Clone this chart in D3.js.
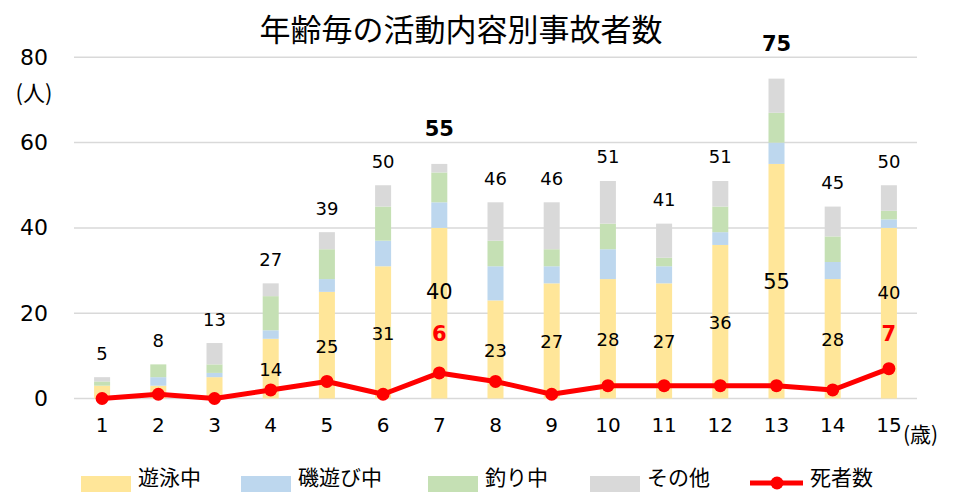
<!DOCTYPE html>
<html>
<head>
<meta charset="utf-8">
<script src="https://cdn.jsdelivr.net/npm/d3@7"></script>
<style>
  body { margin: 0; background: #fff; }
  svg { font-family: "DejaVu Sans", "Noto Sans CJK JP", sans-serif; }
  .jp { font-family: "Noto Sans CJK JP", sans-serif; }
</style>
</head>
<body>
<svg width="953" height="492"></svg>
<script>
// data
var ages = [1, 2, 3, 4, 5, 6, 7, 8, 9, 10, 11, 12, 13, 14, 15];
var swimming = [3, 3, 5, 14, 25, 31, 40, 23, 27, 28, 27, 36, 55, 28, 40];
var rockPlay = [0, 2, 1, 2, 3, 6, 6, 8, 4, 7, 4, 3, 5, 4, 2];
var fishing = [1, 3, 2, 8, 7, 8, 7, 6, 4, 6, 2, 6, 7, 6, 2];
var others = [1, 0, 5, 3, 4, 5, 2, 9, 11, 10, 8, 6, 8, 7, 6];
var deaths = [0, 1, 0, 2, 4, 1, 6, 4, 1, 3, 3, 3, 3, 2, 7];
var yTicks = [0, 20, 40, 60, 80];
var seriesNames = ["遊泳中", "磯遊び中", "釣り中", "その他"];
var boldAges = [7, 13];        // totals in bold
var deathLabelAges = [7, 15];  // death counts written in red
var noSwimLabel = [1, 2, 3];

var colors = ["#ffe699", "#bdd7ee", "#c5e0b4", "#d9d9d9"];

var svg = d3.select("svg");

var rows = ages.map(function(a, i) {
  return { age: a, s0: swimming[i], s1: rockPlay[i], s2: fishing[i], s3: others[i], deaths: deaths[i] };
});
var keys = ["s0", "s1", "s2", "s3"];
var stacked = d3.stack().keys(keys)(rows);

var x = d3.scaleBand().domain(ages).range([74, 917]).paddingInner(0.715).paddingOuter(0.3575);
var y = d3.scaleLinear().domain([0, 80]).range([398.5, 57.3]);

// title
svg.append("text").attr("class", "jp")
  .attr("x", 461).attr("y", 27)
  .attr("text-anchor", "middle").attr("dominant-baseline", "central")
  .attr("font-size", 31).attr("fill", "#000")
  .text("年齢毎の活動内容別事故者数");

// gridlines
svg.append("g").selectAll("line").data(yTicks).enter().append("line")
  .attr("x1", 74).attr("x2", 917)
  .attr("y1", function(d) { return y(d); })
  .attr("y2", function(d) { return y(d); })
  .attr("stroke", "#d9d9d9").attr("stroke-width", 1.5);

// y axis labels
var yAxis = svg.append("g").attr("transform", "translate(58,0)")
  .call(d3.axisLeft(y).tickValues(yTicks).tickSize(0).tickPadding(10));
yAxis.select(".domain").remove();
yAxis.selectAll("text").attr("font-size", 22).attr("fill", "#000")
  .attr("font-family", "DejaVu Sans");

svg.append("text").attr("class", "jp")
  .attr("x", 34).attr("y", 91)
  .attr("text-anchor", "middle").attr("dominant-baseline", "central")
  .attr("font-size", 22).text("(人)");

// x axis labels
var xAxis = svg.append("g").attr("transform", "translate(0,420)")
  .call(d3.axisBottom(x).tickSize(0).tickPadding(0));
xAxis.select(".domain").remove();
xAxis.selectAll("text").attr("font-size", 20).attr("fill", "#000")
  .attr("font-family", "DejaVu Sans").attr("dy", "0.6em");

svg.append("text").attr("class", "jp")
  .attr("x", 903).attr("y", 433)
  .attr("dominant-baseline", "central")
  .attr("font-size", 21).text("(歳)");

// stacked bars
svg.append("g").selectAll("g").data(stacked).enter().append("g")
  .attr("fill", function(d, i) { return colors[i]; })
  .selectAll("rect").data(function(d) { return d; }).enter().append("rect")
  .attr("x", function(d) { return x(d.data.age); })
  .attr("width", x.bandwidth())
  .attr("y", function(d) { return y(d[1]); })
  .attr("height", function(d) { return y(d[0]) - y(d[1]); });

// total labels
svg.append("g").selectAll("text").data(rows).enter().append("text")
  .attr("x", function(d) { return x(d.age) + x.bandwidth() / 2; })
  .attr("y", function(d) {
    var t = d.s0 + d.s1 + d.s2 + d.s3;
    return y(t) - (boldAges.indexOf(d.age) >= 0 ? 35 : 24);
  })
  .attr("text-anchor", "middle").attr("dominant-baseline", "central")
  .attr("font-size", function(d) { return boldAges.indexOf(d.age) >= 0 ? 21 : 18; })
  .attr("font-weight", function(d) { return boldAges.indexOf(d.age) >= 0 ? "bold" : "normal"; })
  .text(function(d) { return d.s0 + d.s1 + d.s2 + d.s3; });

// swimming labels
svg.append("g").selectAll("text")
  .data(rows.filter(function(d) { return noSwimLabel.indexOf(d.age) < 0; }))
  .enter().append("text")
  .attr("x", function(d) { return x(d.age) + x.bandwidth() / 2; })
  .attr("y", function(d) {
    var f = deathLabelAges.indexOf(d.age) >= 0 ? 0.63 : 0.5;
    return y(d.s0 * f) + 1;
  })
  .attr("text-anchor", "middle").attr("dominant-baseline", "central")
  .attr("font-size", function(d) { return boldAges.indexOf(d.age) >= 0 ? 21 : 18; })
  .text(function(d) { return d.s0; });

// deaths line
var cx = function(d) { return x(d.age) + x.bandwidth() / 2; };
svg.append("path").datum(rows)
  .attr("fill", "none").attr("stroke", "#ff0000").attr("stroke-width", 5)
  .attr("stroke-linejoin", "round")
  .attr("d", d3.line().x(cx).y(function(d) { return y(d.deaths); }));

svg.append("g").selectAll("circle").data(rows).enter().append("circle")
  .attr("cx", cx).attr("cy", function(d) { return y(d.deaths); })
  .attr("r", 6.5).attr("fill", "#ff0000");

// death labels
svg.append("g").selectAll("text")
  .data(rows.filter(function(d) { return deathLabelAges.indexOf(d.age) >= 0; }))
  .enter().append("text")
  .attr("x", cx)
  .attr("y", function(d) { return y(d.s0 * 0.38); })
  .attr("text-anchor", "middle").attr("dominant-baseline", "central")
  .attr("font-size", 21).attr("font-weight", "bold").attr("fill", "#ff0000")
  .text(function(d) { return d.deaths; });

// legend
var legendX = [81, 241, 428, 590];
var legend = svg.append("g");
seriesNames.forEach(function(name, i) {
  legend.append("rect").attr("x", legendX[i]).attr("y", 476)
    .attr("width", 50).attr("height", 16).attr("fill", colors[i]);
  legend.append("text").attr("class", "jp")
    .attr("x", legendX[i] + 57).attr("y", 476)
    .attr("dominant-baseline", "central").attr("font-size", 21)
    .text(name);
});
legend.append("line").attr("x1", 750).attr("x2", 803).attr("y1", 483).attr("y2", 483)
  .attr("stroke", "#ff0000").attr("stroke-width", 5);
legend.append("circle").attr("cx", 777).attr("cy", 483).attr("r", 6.5).attr("fill", "#ff0000");
legend.append("text").attr("class", "jp")
  .attr("x", 810).attr("y", 476)
  .attr("dominant-baseline", "central").attr("font-size", 21)
  .text("死者数");
</script>
</body>
</html>
